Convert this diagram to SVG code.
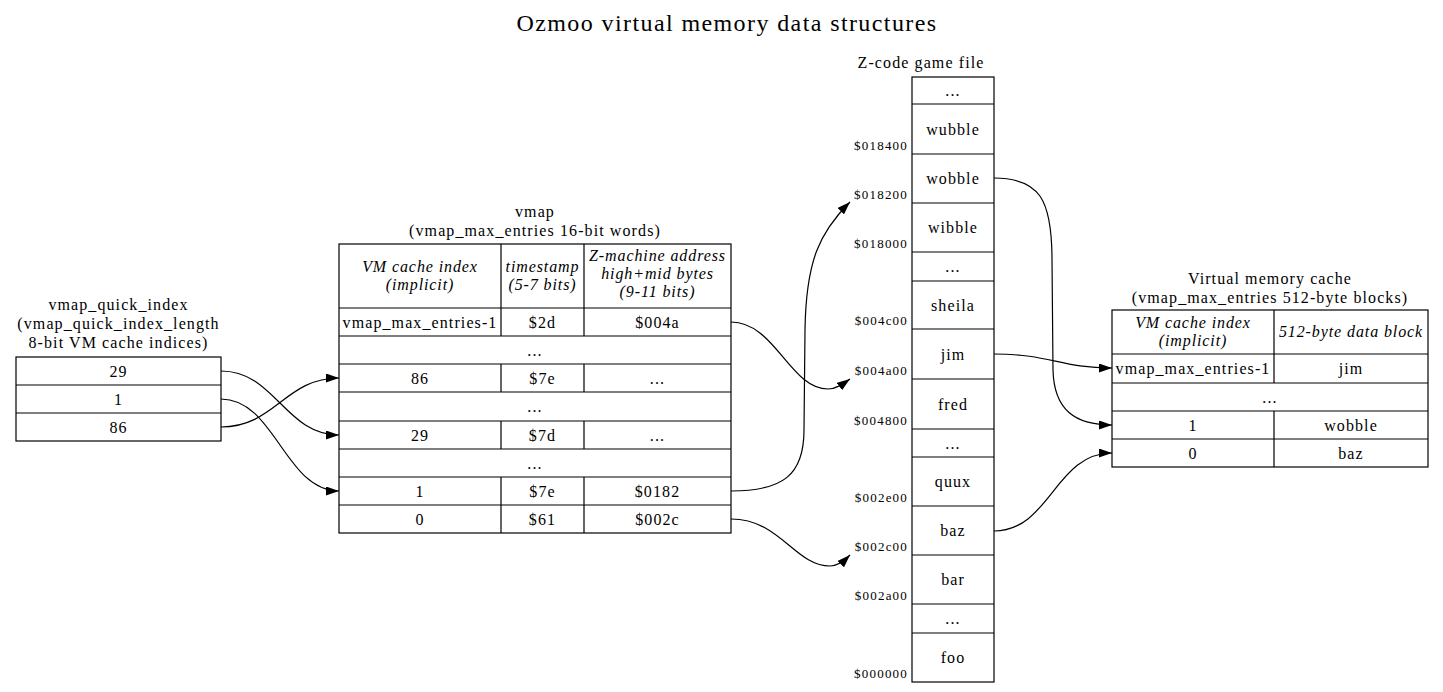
<svg xmlns="http://www.w3.org/2000/svg" width="1443" height="692" viewBox="0 0 1443 692">
<style>
.t{font-family:"Liberation Serif","Times New Roman",serif;font-size:16px;letter-spacing:1.1px;fill:#000;text-anchor:middle}
.i{font-style:italic;letter-spacing:0.9px}
.a{font-size:13px;letter-spacing:1.2px;text-anchor:end}
.ttl{font-size:24px;letter-spacing:1.4px}
.box{fill:#fff;stroke:#000;stroke-width:1.2}
.ln{stroke:#000;stroke-width:1.2;fill:none}
.edge{fill:none;stroke:#000;stroke-width:1.2;marker-end:url(#arr)}
</style>
<defs>
<marker id="arr" viewBox="0 0 13 9" refX="13" refY="4.5" markerWidth="13" markerHeight="9" orient="auto" markerUnits="userSpaceOnUse">
<path d="M0,0L13,4.5L0,9z" fill="#000"/>
</marker>
</defs>
<rect width="1443" height="692" fill="#fff"/>
<text class="t ttl" x="727" y="31">Ozmoo virtual memory data structures</text>

<g id="vmap_quick_index">
<text class="t" x="118.5" y="310">vmap_quick_index</text>
<text class="t" x="118.5" y="329">(vmap_quick_index_length</text>
<text class="t" x="118.5" y="348">8-bit VM cache indices)</text>
<rect class="box" x="16" y="357" width="205" height="84"/>
<path class="ln" d="M16,385H221M16,413H221"/>
<text class="t" x="118.5" y="376.5">29</text>
<text class="t" x="118.5" y="404.5">1</text>
<text class="t" x="118.5" y="432.5">86</text>
</g>

<g id="vmap">
<text class="t" x="535" y="217">vmap</text>
<text class="t" x="535" y="236">(vmap_max_entries 16-bit words)</text>
<rect class="box" x="339" y="244" width="392" height="289"/>
<path class="ln" d="M339,308H731M339,336H731M339,364H731M339,392H731M339,421H731M339,449H731M339,477H731M339,505H731"/>
<path class="ln" d="M501,244V336M584,244V336M501,364V392M584,364V392M501,421V449M584,421V449M501,477V533M584,477V533"/>
<text class="t i" x="420" y="272">VM cache index</text>
<text class="t i" x="420" y="290">(implicit)</text>
<text class="t i" x="542.5" y="272">timestamp</text>
<text class="t i" x="542.5" y="290">(5-7 bits)</text>
<text class="t i" x="657.5" y="261">Z-machine address</text>
<text class="t i" x="657.5" y="279">high+mid bytes</text>
<text class="t i" x="657.5" y="297">(9-11 bits)</text>
<text class="t" x="420" y="327.5">vmap_max_entries-1</text>
<text class="t" x="542.5" y="327.5">$2d</text>
<text class="t" x="657.5" y="327.5">$004a</text>
<text class="t" x="535" y="355.5">...</text>
<text class="t" x="420" y="383.5">86</text>
<text class="t" x="542.5" y="383.5">$7e</text>
<text class="t" x="657.5" y="383.5">...</text>
<text class="t" x="535" y="412">...</text>
<text class="t" x="420" y="440.5">29</text>
<text class="t" x="542.5" y="440.5">$7d</text>
<text class="t" x="657.5" y="440.5">...</text>
<text class="t" x="535" y="468.5">...</text>
<text class="t" x="420" y="496.5">1</text>
<text class="t" x="542.5" y="496.5">$7e</text>
<text class="t" x="657.5" y="496.5">$0182</text>
<text class="t" x="420" y="524.5">0</text>
<text class="t" x="542.5" y="524.5">$61</text>
<text class="t" x="657.5" y="524.5">$002c</text>
</g>

<g id="zcode">
<text class="t" x="921" y="68">Z-code game file</text>
<rect class="box" x="912" y="77" width="82" height="605"/>
<path class="ln" d="M912,104H994M912,154H994M912,203H994M912,252H994M912,281H994M912,329H994M912,379H994M912,429H994M912,457H994M912,506H994M912,555H994M912,604H994M912,633H994"/>
<text class="t" x="953" y="96">...</text>
<text class="t" x="953" y="134.5">wubble</text>
<text class="t" x="953" y="184">wobble</text>
<text class="t" x="953" y="233">wibble</text>
<text class="t" x="953" y="272">...</text>
<text class="t" x="953" y="310.5">sheila</text>
<text class="t" x="953" y="359.5">jim</text>
<text class="t" x="953" y="409.5">fred</text>
<text class="t" x="953" y="448.5">...</text>
<text class="t" x="953" y="487">quux</text>
<text class="t" x="953" y="536">baz</text>
<text class="t" x="953" y="585">bar</text>
<text class="t" x="953" y="624">...</text>
<text class="t" x="953" y="663">foo</text>
<text class="t a" x="908" y="150">$018400</text>
<text class="t a" x="908" y="199">$018200</text>
<text class="t a" x="908" y="248">$018000</text>
<text class="t a" x="908" y="325">$004c00</text>
<text class="t a" x="908" y="375">$004a00</text>
<text class="t a" x="908" y="425">$004800</text>
<text class="t a" x="908" y="502">$002e00</text>
<text class="t a" x="908" y="551">$002c00</text>
<text class="t a" x="908" y="600">$002a00</text>
<text class="t a" x="908" y="678">$000000</text>
</g>

<g id="vm_cache">
<text class="t" x="1270" y="284">Virtual memory cache</text>
<text class="t" x="1270" y="303">(vmap_max_entries 512-byte blocks)</text>
<rect class="box" x="1112" y="310" width="316" height="157"/>
<path class="ln" d="M1112,354H1428M1112,383H1428M1112,411H1428M1112,439H1428"/>
<path class="ln" d="M1274,310V383M1274,411V467"/>
<text class="t i" x="1193" y="328">VM cache index</text>
<text class="t i" x="1193" y="346">(implicit)</text>
<text class="t i" x="1351" y="337">512-byte data block</text>
<text class="t" x="1193" y="374">vmap_max_entries-1</text>
<text class="t" x="1351" y="374">jim</text>
<text class="t" x="1270" y="402.5">...</text>
<text class="t" x="1193" y="430.5">1</text>
<text class="t" x="1351" y="430.5">wobble</text>
<text class="t" x="1193" y="458.5">0</text>
<text class="t" x="1351" y="458.5">baz</text>
</g>

<g id="connectors">
<path class="edge" d="M221,371C275,371 285,435 339,435"/>
<path class="edge" d="M221,399C275,399 285,491 339,491"/>
<path class="edge" d="M221,427C275,427 285,378 339,378"/>
<path class="edge" d="M731,322C775,322 790,389 828,389C836,389 843,384 850,379"/>
<path class="edge" d="M731,491C783,491 804,475 804,430L805,330C806,260 820,232 850,202"/>
<path class="edge" d="M731,519C780,519 795,566 830,566C838,566 844,561 850,555"/>
<path class="edge" d="M994,178C1040,178 1052,200 1052,260L1053,370C1054,410 1075,425 1112,425"/>
<path class="edge" d="M994,354C1050,354 1060,368 1112,368"/>
<path class="edge" d="M994,531C1050,531 1055,453 1112,453"/>
</g>
</svg>
